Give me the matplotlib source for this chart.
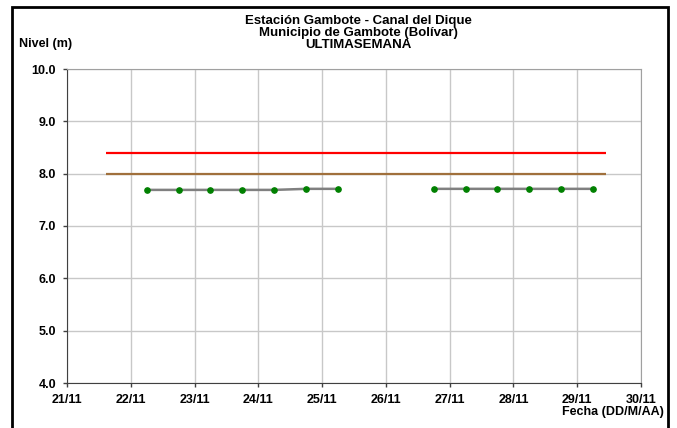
import numpy as np
import pandas as pd
import matplotlib
matplotlib.use('Agg')
import matplotlib.pyplot as plt
import matplotlib.dates as mdates
from matplotlib.patches import Rectangle

plt.rcParams['font.family'] = ['Liberation Sans', 'DejaVu Sans']
plt.rcParams['font.weight'] = 'bold'

# Data
fechas = pd.to_datetime([
    '2024-11-22 06:00', '2024-11-22 18:00', '2024-11-23 06:00', '2024-11-23 18:00',
    '2024-11-24 06:00', '2024-11-24 18:00', '2024-11-25 06:00', '2024-11-25 18:00',
    '2024-11-26 06:00', '2024-11-26 18:00', '2024-11-27 06:00', '2024-11-27 18:00',
    '2024-11-28 06:00', '2024-11-28 18:00', '2024-11-29 06:00'])
nivel = [7.69, 7.69, 7.69, 7.69, 7.69, 7.71, 7.71, np.nan,
         np.nan, 7.71, 7.71, 7.71, 7.71, 7.71, 7.71]

umbral_fechas = pd.to_datetime(['2024-11-21 14:30', '2024-11-29 11:00'])
alerta_roja = [8.4, 8.4]
alerta_naranja = [8.0, 8.0]

fig = plt.figure(figsize=(6.77, 4.28), dpi=100)
ax = fig.add_axes([67/677, 1-383/428, 574/677, 314/428])

ax.plot(umbral_fechas, alerta_roja, color='#ff0000', lw=1.6, solid_capstyle='butt')
ax.plot(umbral_fechas, alerta_naranja, color='#a0703c', lw=1.6, solid_capstyle='butt')
ax.plot(fechas, nivel, color='#808080', lw=1.8, marker='o', ms=3.8,
        mfc='#008000', mec='#008000')

ax.set_xlim(pd.Timestamp('2024-11-21'), pd.Timestamp('2024-11-30'))
ax.set_ylim(4.0, 10.0)
ax.set_yticks(np.arange(4.0, 10.01, 1.0))
ax.yaxis.set_major_formatter(plt.FormatStrFormatter('%.1f'))
ax.xaxis.set_major_locator(mdates.DayLocator())
ax.xaxis.set_major_formatter(mdates.DateFormatter('%d/%m'))

ax.grid(True, color='#c8c8c8', lw=1)
ax.set_axisbelow(True)
for s in ['top', 'right']:
    ax.spines[s].set_color('#a0a0a0')
for s in ['left', 'bottom']:
    ax.spines[s].set_color('#404040')
ax.tick_params(axis='both', labelsize=9, length=3, width=1, color='#404040')
ax.tick_params(axis='y', pad=5)
ax.tick_params(axis='x', pad=5)
for lab in ax.get_xticklabels() + ax.get_yticklabels():
    lab.set_fontweight('bold')

fig.text(358/677, 1-33/428, 'Estación Gambote - Canal del Dique\nMunicipio de Gambote (Bolívar)\nULTIMASEMANA',
         ha='center', va='center', fontsize=9.5, fontweight='bold', linespacing=1.05)
fig.text(19/677, 1-44/428, 'Nivel (m)', ha='left', va='center', fontsize=9, fontweight='bold')
fig.text(664/677, 1-412/428, 'Fecha (DD/M/AA)', ha='right', va='center', fontsize=9, fontweight='bold')

fig.patches.append(Rectangle((12/677, -0.05), 656/677, 1.05-7/428, transform=fig.transFigure,
                             fill=False, ec='black', lw=2))

fig.savefig('out.png', dpi=100)
